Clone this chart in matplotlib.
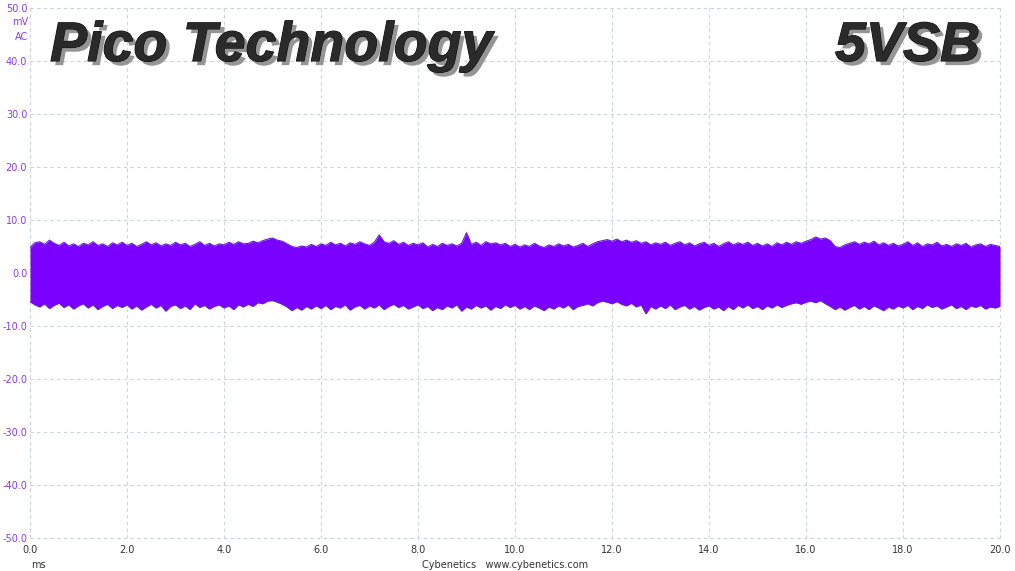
import matplotlib
matplotlib.use("Agg")
import matplotlib.pyplot as plt
import matplotlib.patheffects as pe
import numpy as np

# ---- data ----
x_ticks = [0.0, 2.0, 4.0, 6.0, 8.0, 10.0, 12.0, 14.0, 16.0, 18.0, 20.0]
y_ticks = [-50.0, -40.0, -30.0, -20.0, -10.0, 0.0, 10.0, 20.0, 30.0, 40.0, 50.0]
t_step = 0.1  # ms between envelope samples
upper_env = [
    4.8, 5.7, 5.9, 5.4, 6.2, 5.6, 5.2, 5.8, 5.1, 5.5,
    5.0, 5.6, 5.3, 5.9, 5.2, 5.5, 5.0, 5.7, 5.3, 5.8,
    5.2, 5.6, 5.0, 5.4, 5.9, 5.3, 5.7, 5.1, 5.5, 5.2,
    5.8, 5.3, 5.6, 5.0, 5.4, 5.9, 5.2, 5.6, 5.1, 5.5,
    5.3, 5.8, 5.4, 5.9, 5.5, 5.6, 6.0, 5.7, 6.1, 6.4,
    6.6, 6.2, 6.0, 5.5, 5.0, 4.8, 5.1, 4.9, 5.4, 5.0,
    5.5, 5.2, 5.8, 5.3, 5.6, 5.1, 5.7, 5.4, 5.9, 5.5,
    5.2, 5.8, 7.2, 5.9, 5.6, 6.1, 5.4, 5.8, 5.2, 5.6,
    5.3, 5.7, 4.9, 5.4, 5.0, 5.6, 5.2, 5.5, 5.1, 5.6,
    7.6, 5.4, 5.8, 5.2, 5.9, 5.5, 5.7, 5.3, 5.6, 5.0,
    5.4, 4.9, 5.3, 5.0, 5.6, 5.1, 4.8, 5.3, 5.0, 5.5,
    5.1, 5.4, 4.9, 5.2, 5.6, 5.0, 5.5, 5.9, 6.1, 6.3,
    6.0, 6.4, 5.9, 6.2, 5.8, 6.1, 5.6, 5.9, 5.3, 5.7,
    5.4, 5.8, 5.2, 5.6, 5.9, 5.3, 5.7, 5.1, 5.5, 5.8,
    5.2, 5.6, 5.0, 5.5, 5.9, 5.3, 5.7, 5.4, 5.8, 5.2,
    5.6, 5.1, 5.5, 5.0, 5.7, 5.3, 5.8, 5.4, 5.9, 5.6,
    6.0, 6.3, 6.8, 6.4, 6.6, 6.1, 5.0, 4.8, 5.3, 5.6,
    5.9, 5.4, 5.8, 5.5, 6.0, 5.3, 5.7, 5.2, 5.6, 5.1,
    5.4, 5.9, 5.2, 5.7, 5.0, 5.5, 5.3, 5.8, 5.1, 5.4,
    5.0, 5.5, 5.2, 5.6, 4.9, 5.3, 5.5, 5.0, 5.4, 5.2,
    5.0,
]
lower_env = [
    -5.4, -6.0, -6.4, -5.8, -6.7, -6.1, -5.7, -6.5, -6.0, -6.8,
    -6.2, -5.8, -6.6, -6.0, -6.9, -6.3, -5.9, -6.7, -6.1, -6.5,
    -6.0, -6.8, -6.2, -7.0, -6.4, -5.9, -6.6, -6.1, -7.2, -6.3,
    -6.0, -6.7, -6.2, -6.9, -5.8, -6.5, -6.1, -6.8, -6.3, -6.0,
    -6.6, -6.2, -6.9, -6.0, -6.4, -5.9, -6.3, -5.6, -5.8, -5.3,
    -5.2, -5.5, -5.9, -6.4, -7.1, -6.5, -7.0, -6.3, -6.8, -6.2,
    -6.7, -6.1, -6.9, -6.3, -6.6, -6.0, -7.0, -6.4, -6.1, -6.8,
    -6.2, -6.6, -6.0, -6.9, -6.3, -5.9, -6.5, -6.1, -6.8, -6.4,
    -6.0, -6.7, -6.3, -7.1, -6.5, -6.9, -6.2, -6.6, -6.0, -7.2,
    -6.4, -6.8, -6.1, -6.6, -6.2, -7.0, -6.3, -6.7, -6.0, -6.5,
    -6.1, -6.8, -6.3, -6.9, -6.2, -6.6, -7.1, -6.4, -6.8, -6.2,
    -6.6, -6.0, -6.9, -6.3, -6.1, -5.8, -6.2, -5.6, -5.3, -5.5,
    -5.8, -5.4, -5.9, -6.2, -5.7, -6.4, -6.0, -7.7, -6.3, -6.8,
    -6.2, -6.7, -6.0, -6.9, -6.4, -6.1, -6.8, -6.3, -7.0, -6.5,
    -6.2, -6.8, -6.4, -7.1, -6.3, -6.9, -6.1, -6.6, -6.0, -6.7,
    -6.3, -6.9, -6.2, -6.6, -6.0, -6.5, -6.1, -5.8, -5.6, -5.9,
    -5.5, -5.3, -5.6, -5.2, -5.8, -6.3, -6.9, -6.4, -7.0, -6.5,
    -6.1, -6.8, -6.3, -6.9, -6.2, -6.6, -7.1, -6.4, -6.8, -6.2,
    -6.6, -6.1, -6.9, -6.3, -6.7, -6.0, -6.5, -6.2, -6.8, -6.4,
    -6.0, -6.7, -6.3, -6.9, -6.2, -6.5, -6.1, -6.8, -6.4, -6.6,
    -6.3,
]
t = np.arange(len(upper_env)) * t_step

W, H = 1015, 571
fig = plt.figure(figsize=(W / 100, H / 100), dpi=100)
ax = fig.add_axes([30 / W, (H - 538) / H, 970 / W, 530 / H])

trace_col = "#7a00ff"
ax.fill_between(t, lower_env, upper_env, color=trace_col, lw=0, zorder=3)
ax.plot(t, upper_env, color="#6a1ad6", lw=0.8, zorder=4)
ax.plot(t, lower_env, color="#6a1ad6", lw=0.8, zorder=4)

ax.set_xlim(0, 20)
ax.set_ylim(-50, 50)
ax.set_xticks(x_ticks)
ax.set_yticks(y_ticks)
ax.set_xticklabels([f"{v:.1f}" for v in x_ticks])
ax.set_yticklabels([f"{v:.1f}" for v in y_ticks])
ax.tick_params(axis="both", length=0, labelsize=7)
ax.tick_params(axis="y", pad=2, labelcolor="#8a3be6")
ax.tick_params(axis="x", pad=5, labelcolor="#333333")
for s in ax.spines.values():
    s.set_visible(False)
grid_col = "#c8d6dc"
ax.grid(True, color=grid_col, lw=0.8, linestyle=(0, (3, 3)), zorder=0)
for yv in (50, -50):
    ax.axhline(yv, color=grid_col, lw=0.8, linestyle=(0, (3, 3)), zorder=0, clip_on=False)
for xv in (0, 20):
    ax.axvline(xv, color=grid_col, lw=0.8, linestyle=(0, (3, 3)), zorder=0, clip_on=False)

# unit labels
fig.text(28 / W, 1 - 22 / H, "mV", ha="right", va="center", fontsize=7, color="#8a3be6")
fig.text(28 / W, 1 - 37 / H, "AC", ha="right", va="center", fontsize=7, color="#8a3be6")
fig.text(38 / W, 1 - 565 / H, "ms", ha="center", va="center", fontsize=7, color="#333333")
fig.text(505 / W, 1 - 565 / H, "Cybenetics   www.cybenetics.com", ha="center",
         va="center", fontsize=7, color="#333333")

# big titles with shadow
title_kw = dict(fontsize=40, fontweight="bold", fontstyle="italic",
                family="Liberation Sans", va="baseline", zorder=10)
shadow = [pe.withSimplePatchShadow(offset=(3, -3), shadow_rgbFace="#8a8a8a", alpha=0.9),
          pe.Stroke(linewidth=0.8, foreground="#111111"), pe.Normal()]
fig.text(50 / W, 1 - 61 / H, "Pico Technology", ha="left", color="#2a2a2a",
         path_effects=shadow, **title_kw)
fig.text(980 / W, 1 - 61 / H, "5VSB", ha="right", color="#2a2a2a",
         path_effects=shadow, **title_kw)

fig.savefig("out.png", dpi=100)
